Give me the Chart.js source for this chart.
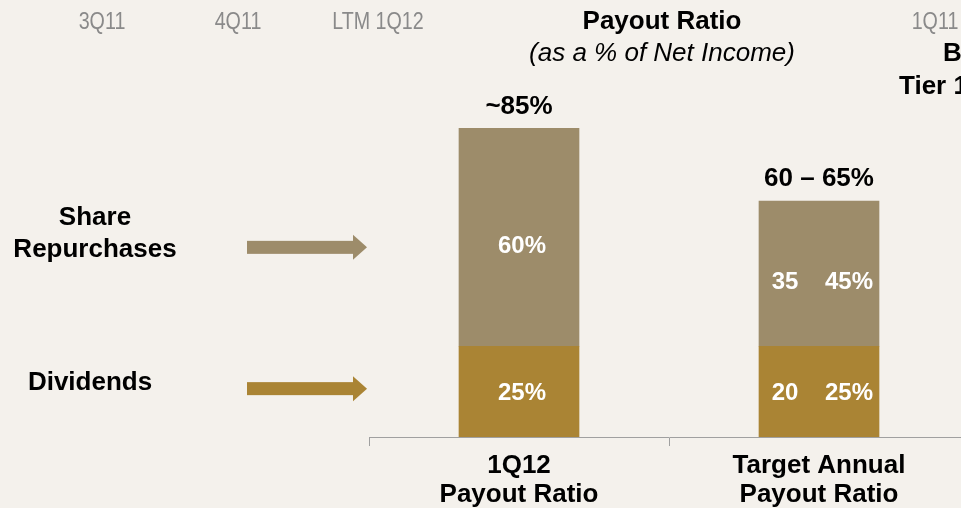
<!DOCTYPE html>
<html>
<head>
<meta charset="utf-8">
<script src="https://cdn.jsdelivr.net/npm/chart.js@4"></script>
<style>
  html, body { margin: 0; padding: 0; background: #f4f1ec; overflow: hidden; }
  #wrap { width: 961px; height: 508px; overflow: hidden; }
</style>
</head>
<body>
<div id="wrap"><canvas id="myChart" width="1000" height="514"></canvas></div>
<script>
// categories and values
const categories = [['1Q12', 'Payout Ratio'], ['Target Annual', 'Payout Ratio']];
const dividends = [25, 25];
const repurchases = [60, 40];
const totalLabels = ['~85%', '60 \u2013 65%'];
const dividendLabels = [['25%'], ['20', '25%']];
const repurchaseLabels = [['60%'], ['35', '45%']];
const headerTicks = ['3Q11', '4Q11', 'LTM 1Q12', '1Q11'];

const FONT = "'Liberation Sans', Arial, sans-serif";
const GOLD = '#aa8434';
const TAUPE = '#9d8c6a';

function arrow(ctx, x0, x1, y, color) {
  ctx.fillStyle = color;
  ctx.fillRect(x0, y - 6.5, x1 - 14 - x0, 13);
  ctx.beginPath();
  ctx.moveTo(x1 - 14, y - 12.5);
  ctx.lineTo(x1, y);
  ctx.lineTo(x1 - 14, y + 12.5);
  ctx.closePath();
  ctx.fill();
}

const slideText = {
  id: 'slideText',
  afterDraw(chart) {
    const ctx = chart.ctx;
    ctx.save();
    ctx.textBaseline = 'middle';
    ctx.textAlign = 'center';

    // leftover header labels from neighbouring slide (narrow face)
    ctx.fillStyle = '#8a8a8a';
    ctx.font = '24px ' + FONT;
    [102, 238, 378, 935].forEach((x, i) => {
      ctx.save();
      ctx.translate(x, 22);
      ctx.scale(0.82, 1);
      ctx.fillText(headerTicks[i], 0, 0);
      ctx.restore();
    });

    ctx.fillStyle = '#000';
    ctx.font = 'bold 26px ' + FONT;
    ctx.fillText('Payout Ratio', 662, 22);
    ctx.font = 'italic 26px ' + FONT;
    ctx.fillText('(as a % of Net Income)', 662, 54);
    ctx.font = 'bold 26px ' + FONT;
    ctx.textAlign = 'left';
    ctx.fillText('B', 943, 54);
    ctx.fillText('Tier 1', 899, 87);

    // left-hand legend
    ctx.textAlign = 'center';
    ctx.fillText('Share', 95, 218);
    ctx.fillText('Repurchases', 95, 250);
    ctx.fillText('Dividends', 90, 383);

    const divMeta = chart.getDatasetMeta(0).data;
    const repMeta = chart.getDatasetMeta(1).data;

    arrow(ctx, 247, 367, repMeta[0].y + (repMeta[0].base - repMeta[0].y) / 2 + 10, TAUPE);
    arrow(ctx, 247, 367, divMeta[0].y + (divMeta[0].base - divMeta[0].y) / 2 - 3, GOLD);

    // totals above bars
    ctx.fillStyle = '#000';
    repMeta.forEach((bar, i) => ctx.fillText(totalLabels[i], bar.x, bar.y - 22));

    // labels inside segments
    ctx.fillStyle = '#fff';
    ctx.font = 'bold 24px ' + FONT;
    function inside(bar, parts, dy) {
      const y = bar.y + (bar.base - bar.y) / 2 + dy;
      if (parts.length === 1) {
        ctx.fillText(parts[0], bar.x + 3, y);
      } else {
        ctx.fillText(parts[0], bar.x - 34, y);
        ctx.fillText(parts[1], bar.x + 30, y);
      }
    }
    repMeta.forEach((bar, i) => inside(bar, repurchaseLabels[i], 9));
    divMeta.forEach((bar, i) => inside(bar, dividendLabels[i], 2));
    ctx.restore();
  }
};

const ctx = document.getElementById('myChart').getContext('2d');
const myChart = new Chart(ctx, {
  type: 'bar',
  data: {
    labels: categories,
    datasets: [{
      label: 'Dividends',
      data: dividends,
      backgroundColor: GOLD,
      barThickness: 120
    }, {
      label: 'Share Repurchases',
      data: repurchases,
      backgroundColor: TAUPE,
      barThickness: 120
    }]
  },
  options: {
    responsive: false,
    animation: false,
    layout: { padding: { left: 369, right: 31, top: 74, bottom: 0 } },
    plugins: { legend: { display: false }, tooltip: { enabled: false } },
    scales: {
      x: {
        stacked: true,
        grid: { drawOnChartArea: false, drawTicks: true, tickLength: 9, color: '#a0a0a0', offset: true },
        border: { display: true, color: '#a0a0a0' },
        ticks: {
          color: '#000',
          padding: 5,
          font: { family: FONT, size: 26, weight: 'bold', lineHeight: 1.115 }
        }
      },
      y: {
        stacked: true,
        display: false,
        min: 0,
        max: 100
      }
    }
  },
  plugins: [slideText]
});
</script>
</body>
</html>
